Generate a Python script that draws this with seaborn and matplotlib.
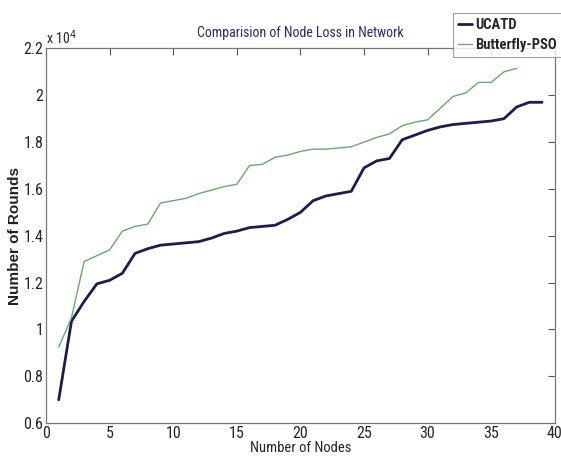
import matplotlib
matplotlib.use("Agg")
import matplotlib.pyplot as plt
import seaborn as sns
import pandas as pd
from matplotlib.ticker import FuncFormatter, MultipleLocator
from matplotlib import font_manager as fm

# ---- data (Number of Rounds) ----
nodes_ucatd = list(range(1, 40))
ucatd = [7000, 10350, 11200, 11950, 12100, 12400, 13250, 13450, 13600, 13650,
         13700, 13750, 13900, 14100, 14200, 14350, 14400, 14450, 14700, 15000,
         15500, 15700, 15800, 15900, 16900, 17200, 17300, 18100, 18300, 18500,
         18650, 18750, 18800, 18850, 18900, 19000, 19500, 19700, 19700]
nodes_pso = list(range(1, 38))
pso = [9250, 10500, 12900, 13150, 13400, 14200, 14400, 14500, 15400, 15500,
       15600, 15800, 15950, 16100, 16200, 17000, 17050, 17350, 17450, 17600,
       17700, 17700, 17750, 17800, 18000, 18200, 18350, 18700, 18850, 18950,
       19450, 19950, 20100, 20550, 20550, 21000, 21150]

series_names = ["UCATD", "Butterfly-PSO"]
title = "Comparision of Node Loss in Network"
xlabel = "Number of Nodes"
ylabel = "Number of Rounds"

df1 = pd.DataFrame({"nodes": nodes_ucatd, "rounds": ucatd})
df2 = pd.DataFrame({"nodes": nodes_pso, "rounds": pso})

sns.set_style("white")

# look for a narrow sans font, otherwise use Liberation Sans
narrow = None
for f in fm.fontManager.ttflist:
    n = f.name.lower()
    if ("narrow" in n or "condensed" in n or f.stretch in ("condensed", "semi-condensed")) \
            and f.style == "normal" and ("sans" in n or "arial" in n or "roboto" in n):
        if narrow is None or f.weight in ("normal", 400, "regular"):
            narrow = f.name
if narrow:
    plt.rcParams["font.family"] = [narrow, "Liberation Sans", "DejaVu Sans"]
    scale = 1.0
else:
    plt.rcParams["font.family"] = ["Liberation Sans", "DejaVu Sans"]
    scale = 0.85

fig = plt.figure(figsize=(5.61, 4.61), dpi=100)
ax = fig.add_axes([0.082, 0.082, 0.907, 0.813])

sns.lineplot(data=df1, x="nodes", y="rounds", ax=ax, color="#1c1c50", linewidth=2.0,
             label=series_names[0])
sns.lineplot(data=df2, x="nodes", y="rounds", ax=ax, color="#6aa86a", linewidth=1.0,
             label=series_names[1])

ax.set_xlim(0, 40)
ax.set_ylim(6000, 22000)
ax.xaxis.set_major_locator(MultipleLocator(5))
ax.yaxis.set_major_locator(MultipleLocator(2000))
ax.yaxis.set_major_formatter(FuncFormatter(lambda v, p: "%g" % round(v / 1e4, 2)))

ax.tick_params(direction="in", top=True, right=True, length=5, width=0.8,
               color="#555555", labelsize=11.5 * scale, pad=2)
for s in ax.spines.values():
    s.set_color("#777777")
    s.set_linewidth(0.9)

ax.set_xlabel(xlabel, fontsize=10.5 * scale, labelpad=0)
ax.set_ylabel(ylabel, fontsize=11, fontweight="bold", labelpad=1,
              family=["Liberation Sans", "DejaVu Sans"], color="#222222")
ax.set_title(title, fontsize=10 * scale, color="#2a2a70", pad=8)
ax.text(0.0, 1.005, r"x 10$^4$", transform=ax.transAxes, fontsize=10 * scale,
        ha="left", va="bottom")

ax.get_legend().remove()
h, l = ax.get_legend_handles_labels()
leg = fig.legend(h, l, loc="upper left", bbox_to_anchor=(0.807, 0.972), frameon=True,
                 fancybox=False, edgecolor="#888888", fontsize=10.5 * scale, handlelength=1.0,
                 handletextpad=0.2, borderpad=0.35, labelspacing=0.4, borderaxespad=0)
leg.get_frame().set_linewidth(0.8)
for t in leg.get_texts():
    t.set_fontweight("bold")

fig.savefig("out.png", dpi=100)
